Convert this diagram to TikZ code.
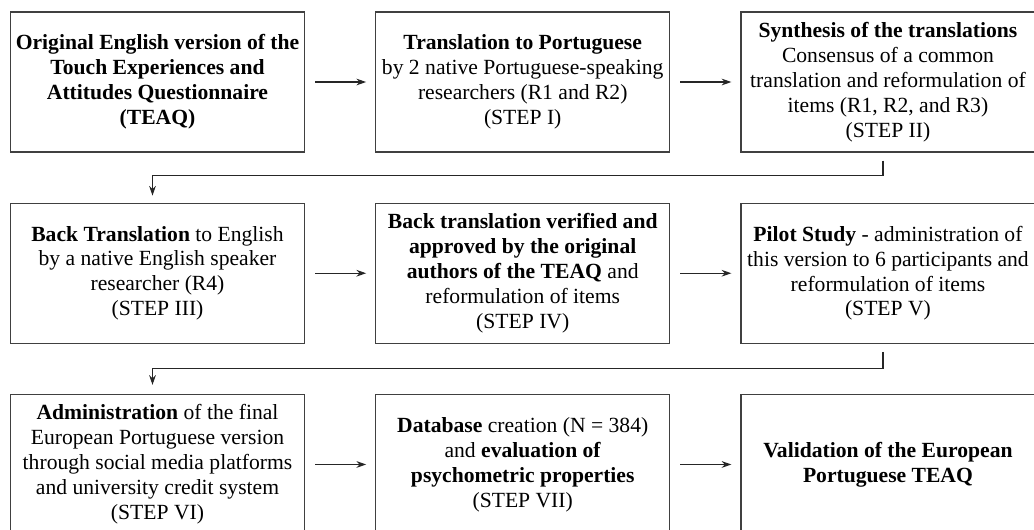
\documentclass[tikz,border=0pt]{standalone}
\usepackage{fontspec}
\setmainfont{Liberation Serif}
\usepackage{tikz}
\usetikzlibrary{arrows.meta,positioning}

\begin{document}
\begin{tikzpicture}
  \tikzstyle{block} = [rectangle, draw=black!75, fill=white, line width=0.7pt,
                      minimum width=5.88cm, minimum height=2.8cm, inner xsep=0pt, align=center,
                      font=\fontsize{12.3}{14.2}\selectfont]
  \tikzstyle{arrow} = [-{Stealth[length=5.5pt,width=3.8pt]}, line width=0.6pt, draw=black!85]
  \clip (-3.15,1.64) rectangle (17.53,-8.94);
  \fill[white] (-3.15,1.64) rectangle (17.53,-8.94);
  % row 1
  \node[block] (orig) {\textbf{Original English version of the}\\ \textbf{Touch Experiences and}\\ \textbf{Attitudes Questionnaire}\\ \textbf{(TEAQ)}};
  \node[block, right=1.4cm of orig] (transl) {\textbf{Translation to Portuguese}\\ by 2 native Portuguese-speaking\\ researchers (R1 and R2)\\ (STEP I)};
  \node[block, right=1.4cm of transl] (synth) {\textbf{Synthesis of the translations}\\ Consensus of a common\\ translation and reformulation of\\ items (R1, R2, and R3)\\ (STEP II)};
  % row 2
  \node[block, below=1.0cm of orig] (back) {\textbf{Back Translation} to English\\ by a native English speaker\\ researcher (R4)\\ (STEP III)};
  \node[block, right=1.4cm of back] (verif) {\textbf{Back translation verified and}\\ \textbf{approved by the original}\\ \textbf{authors of the TEAQ} and\\ reformulation of items\\ (STEP IV)};
  \node[block, right=1.4cm of verif] (pilot) {\textbf{Pilot Study} - administration of\\ this version to 6 participants and\\ reformulation of items\\ (STEP V)};
  % row 3
  \node[block, below=1.0cm of back] (admin) {\textbf{Administration} of the final\\ European Portuguese version\\ through social media platforms\\ and university credit system\\ (STEP VI)};
  \node[block, right=1.4cm of admin] (datab) {\textbf{Database} creation (N = 384)\\ and \textbf{evaluation of}\\ \textbf{psychometric properties}\\ (STEP VII)};
  \node[block, right=1.4cm of datab] (valid) {\textbf{Validation of the European}\\ \textbf{Portuguese TEAQ}};
  % arrows
  \draw[arrow, shorten <=0.2cm, shorten >=0.18cm] (orig) -- (transl);
  \draw[arrow, shorten <=0.2cm, shorten >=0.18cm] (transl) -- (synth);
  \draw[arrow, shorten <=0.16cm, shorten >=0.14cm] ([xshift=-0.1cm]synth.south) -- ++(0,-0.46) -| ([xshift=-0.1cm]back.north);
  \draw[arrow, shorten <=0.2cm, shorten >=0.18cm] (back) -- (verif);
  \draw[arrow, shorten <=0.2cm, shorten >=0.18cm] (verif) -- (pilot);
  \draw[arrow, shorten <=0.16cm, shorten >=0.18cm] ([xshift=-0.1cm]pilot.south) -- ++(0,-0.5) -| ([xshift=-0.1cm]admin.north);
  \draw[arrow, shorten <=0.2cm, shorten >=0.18cm] (admin) -- (datab);
  \draw[arrow, shorten <=0.2cm, shorten >=0.18cm] (datab) -- (valid);
\end{tikzpicture}
\end{document}
